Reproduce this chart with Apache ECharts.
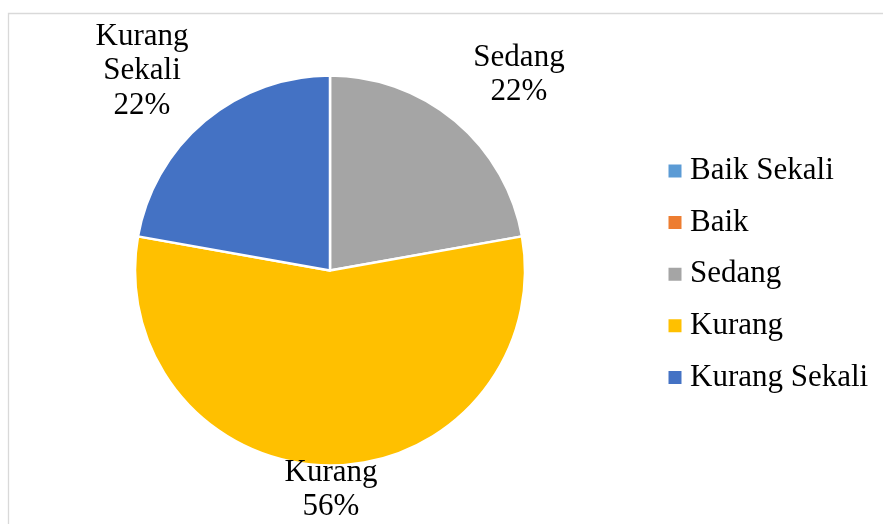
<!DOCTYPE html>
<html>
<head>
<meta charset="utf-8">
<script src="https://cdn.jsdelivr.net/npm/echarts@6/dist/echarts.min.js"></script>
<style>html,body{margin:0;padding:0;background:#fff}#c{width:883px;height:524px}</style>
</head>
<body>
<div id="c"></div>
<script>
var categories = ['Baik Sekali', 'Baik', 'Sedang', 'Kurang', 'Kurang Sekali'];
var values = [0, 0, 22.2, 55.6, 22.2];
var colors = ['#5B9BD5', '#ED7D31', '#A5A5A5', '#FFC000', '#4472C4'];

// label centres (text placement only)
var labelPos = {
  'Sedang': [519, 75],
  'Kurang': [331, 490],
  'Kurang Sekali': [142, 71]
};

var chart = echarts.init(document.getElementById('c'), null, {renderer: 'canvas'});
var font = '"Liberation Serif", "Times New Roman", serif';
chart.setOption({
  animation: false,
  backgroundColor: '#fff',
  graphic: [{
    type: 'rect',
    shape: {x: 8.5, y: 13.5, width: 1000, height: 1000},
    style: {fill: 'none', stroke: '#d9d9d9', lineWidth: 1.3},
    z: -1
  }],
  legend: {
    orient: 'vertical',
    left: 666.5,
    top: 155.5,
    padding: 0,
    icon: 'rect',
    itemWidth: 15,
    itemHeight: 15,
    itemGap: 20.6,
    selectedMode: false,
    data: categories,
    textStyle: {fontFamily: font, fontSize: 31, color: '#000', lineHeight: 30, padding: [0, 0, 0, 2.5]}
  },
  series: [{
    type: 'pie',
    center: [330, 270.5],
    radius: 195,
    startAngle: 90,
    clockwise: true,
    avoidLabelOverlap: false,
    itemStyle: {borderColor: '#fff', borderWidth: 2.5},
    emphasis: {disabled: true},
    label: {
      show: true,
      position: 'outside',
      fontFamily: font,
      fontSize: 31,
      lineHeight: 34.5,
      color: '#000',
      align: 'center',
      formatter: function (p) {
        if (!p.value) return '';
        return p.name.replace(' ', '\n') + '\n' + Math.round(p.percent) + '%';
      }
    },
    labelLine: {show: false},
    labelLayout: function (p) {
      var name = categories[p.dataIndex];
      var pos = labelPos[name];
      if (!pos) return {};
      return {x: pos[0], y: pos[1], align: 'center', verticalAlign: 'middle'};
    },
    data: categories.map(function (c, i) {
      return {name: c, value: values[i], itemStyle: {color: colors[i]}, label: {show: values[i] > 0}};
    })
  }]
});
</script>
</body>
</html>
